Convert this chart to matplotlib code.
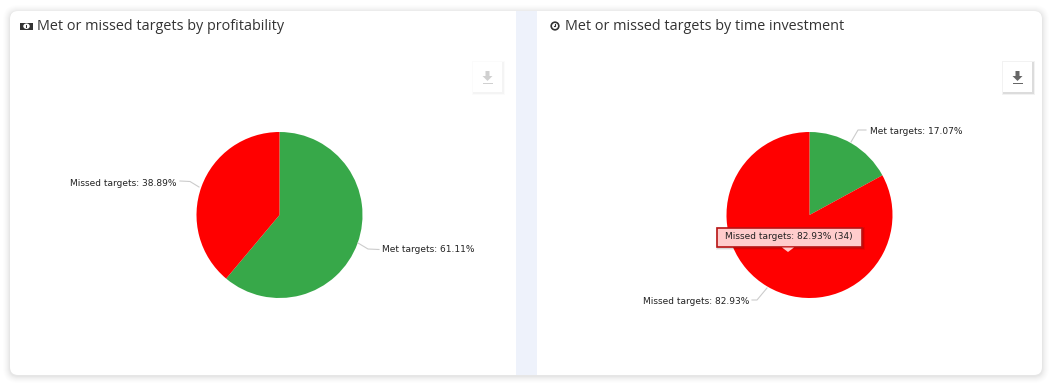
import matplotlib
matplotlib.use("Agg")
import matplotlib.pyplot as plt
from matplotlib.patches import Circle, Ellipse, FancyBboxPatch, Polygon, Rectangle

W, H = 1052, 384

labels = ["Met targets", "Missed targets"]
colors = ["#37a849", "#ff0000"]
profit_values = [61.11, 38.89]
time_values = [17.07, 82.93]
tooltip_text = "Missed targets: 82.93% (34)"
title_left = "Met or missed targets by profitability"
title_right = "Met or missed targets by time investment"
label_font = "DejaVu Sans"

fig = plt.figure(figsize=(W / 100, H / 100), dpi=100, facecolor="white")

# page furniture, drawn in pixel coordinates
bg = fig.add_axes([0, 0, 1, 1])
bg.set_xlim(0, W)
bg.set_ylim(H, 0)
bg.axis("off")

for grow, alpha in [(7, 0.006), (6, 0.008), (5, 0.01), (4, 0.012), (3, 0.015), (2, 0.02), (1, 0.025)]:
    bg.add_patch(FancyBboxPatch((10 - grow, 12 - grow), 1032 + 2 * grow, 364 + 2 * grow,
                                boxstyle="round,pad=0,rounding_size=%d" % (8 + grow),
                                fc="black", ec="none", alpha=alpha))
bg.add_patch(FancyBboxPatch((10, 11), 1032, 364, boxstyle="round,pad=0,rounding_size=8",
                            fc="white", ec="none"))
bg.add_patch(Rectangle((516, 11), 21, 364, fc="#eef2fb", ec="none"))

bg.text(37, 26, title_left, family="Open Sans", fontsize=10.35, color="#333333", va="center", ha="left")
bg.text(565, 26, title_right, family="Open Sans", fontsize=10.35, color="#333333", va="center", ha="left")

# money icon
bg.add_patch(Rectangle((20, 22.5), 13, 7.5, fc="#333333", ec="none"))
bg.add_patch(Ellipse((26.5, 26.2), 6.5, 5.5, fc="white", ec="none"))
bg.add_patch(Rectangle((26, 24.5), 1.2, 3.5, fc="#333333", ec="none"))
# clock icon
bg.add_patch(Circle((555, 26), 3.8, fc="white", ec="#333333", lw=1.2))
bg.plot([555, 555, 553.5], [23.8, 26.3, 26.3], color="#333333", lw=0.8)


def download_button(x, y, alpha):
    for grow, a in [(2, 0.05), (1, 0.09)]:
        bg.add_patch(Rectangle((x - grow + 0.5, y - grow + 1), 29 + 2 * grow, 30 + 2 * grow,
                               fc="black", ec="none", alpha=a * alpha))
    bg.add_patch(Rectangle((x, y), 29, 30, fc="white", ec="none"))
    cx = x + 14.5
    bg.add_patch(Polygon([(cx - 2, y + 9), (cx + 2, y + 9), (cx + 2, y + 14), (cx + 5, y + 14),
                          (cx, y + 19), (cx - 5, y + 14), (cx - 2, y + 14)],
                         fc="#666666", ec="none", alpha=alpha))
    bg.add_patch(Rectangle((cx - 5, y + 20.5), 10, 1.4, fc="#666666", ec="none", alpha=alpha))


download_button(473, 62, 0.3)
download_button(1003, 62, 1.0)


def draw_pie(cx, cy, r, values):
    ax = fig.add_axes([(cx - r) / W, 1 - (cy + r) / H, 2 * r / W, 2 * r / H])
    ax.pie(values, colors=colors, startangle=90, counterclock=False, radius=1,
           wedgeprops={"linewidth": 0})
    ax.set_xlim(-1, 1)
    ax.set_ylim(-1, 1)
    ax.set_aspect("equal")
    ax.axis("off")


draw_pie(279.5, 215, 83, profit_values)
draw_pie(809.5, 215, 83, time_values)

# labels go above the pies
fg = fig.add_axes([0, 0, 1, 1])
fg.set_xlim(0, W)
fg.set_ylim(H, 0)
fg.axis("off")
fg.patch.set_alpha(0)


def pie_label(text, x, y, ha, line_x, line_y):
    fg.text(x, y, text, family=label_font, fontsize=6.5, color="#222222", ha=ha, va="center")
    fg.plot(line_x, line_y, color="#cccccc", lw=0.8, solid_joinstyle="round")


pie_label("%s: %.2f%%" % (labels[1], profit_values[1]), 177, 183, "right",
          [180, 190, 199], [181, 181.5, 187])
pie_label("%s: %.2f%%" % (labels[0], profit_values[0]), 382, 250, "left",
          [379, 368, 358], [249.5, 249, 243])
pie_label("%s: %.2f%%" % (labels[0], time_values[0]), 870, 132, "left",
          [866, 858, 851], [130, 130, 142])
pie_label("%s: %.2f%%" % (labels[1], time_values[1]), 749, 302, "right",
          [752, 757, 767], [300, 300, 288])

# tooltip
for grow, a in [(2, 0.06), (1, 0.1)]:
    fg.add_patch(Rectangle((717 - grow + 1, 228 - grow + 1), 145 + 2 * grow, 19 + 2 * grow,
                           fc="black", ec="none", alpha=a))
fg.add_patch(Rectangle((717, 228), 145, 19, fc="#ffcccc", ec="none"))
fg.add_patch(Rectangle((717, 228), 145, 19, fc="none", ec="#b81414", lw=1.2))
fg.add_patch(Polygon([(782, 247.5), (794, 247.5), (788, 252)], fc="#ffcccc", ec="none"))
fg.text(789, 236.5, tooltip_text, family=label_font, fontsize=6.5, color="#222222", ha="center", va="center")

fig.savefig("out.png", dpi=100)
